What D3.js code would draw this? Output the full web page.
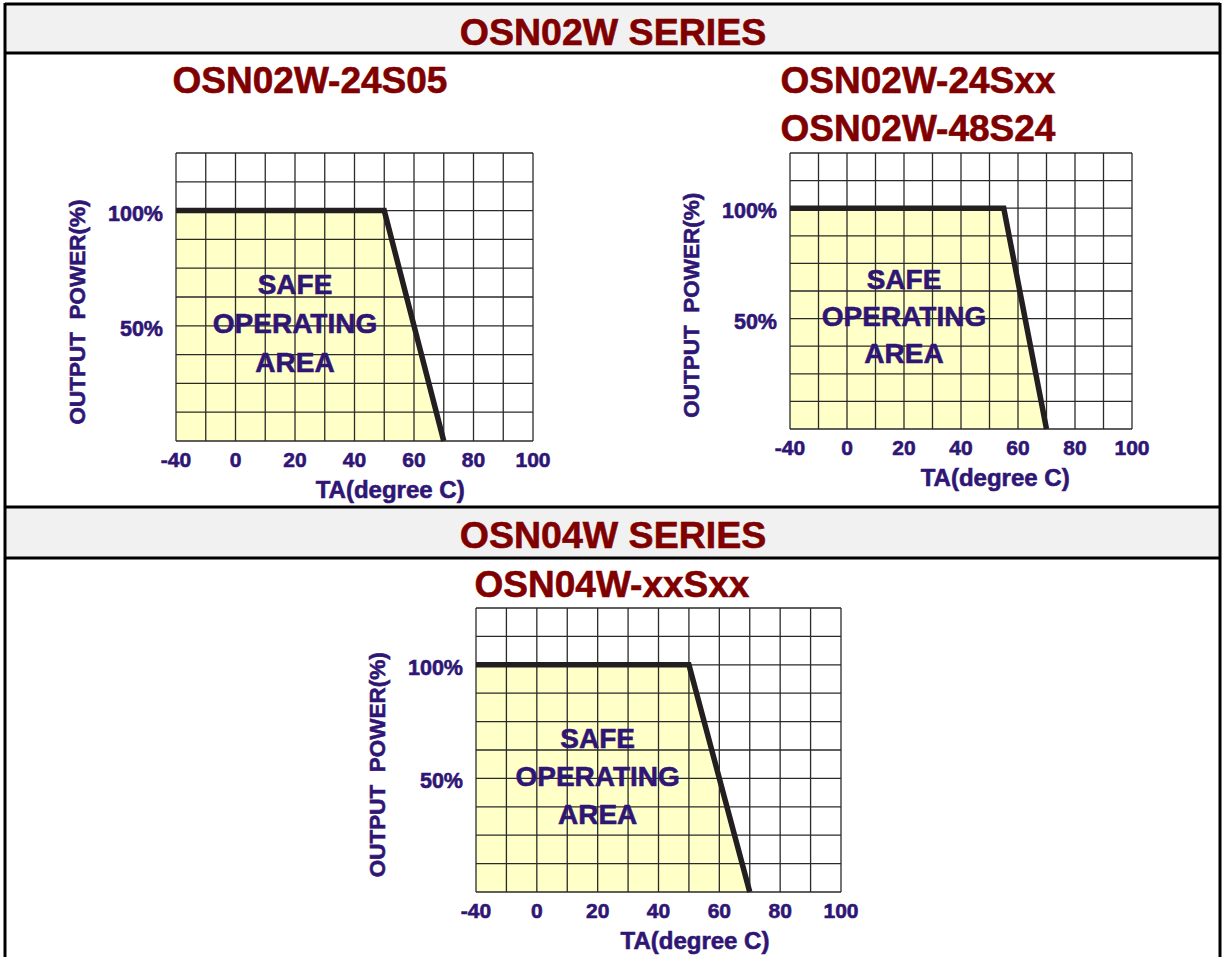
<!DOCTYPE html>
<html>
<head>
<meta charset="utf-8">
<script src="https://cdn.jsdelivr.net/npm/d3@7"></script>
<style>
	body { margin: 0; background: #fff; }
	svg { display: block; font-family: "Liberation Sans", Arial, sans-serif; font-weight: bold; }
	text { stroke-width: 0.6px; }
</style>
</head>
<body>
<svg id="derating" width="1223" height="957"></svg>
<script>
// Derating data
const seriesNames = ["OSN02W SERIES", "OSN04W SERIES"];
const xTickLabels = [-40, 0, 20, 40, 60, 80, 100];
const yTickLabels = [100, 50];
const areaLabel = ["SAFE", "OPERATING", "AREA"];

// temperature (degree C) and output power (%) at each corner of the curve
const tempOSN02W24S05 = [-40, 50, 70];
const tempOSN02W24Sxx = [-40, 55, 70];
const tempOSN04WxxSxx = [-40, 50, 70];
const powerDerating = [100, 100, 0];

const purple = "#2f1675";
const darkRed = "#800000";

const svg = d3.select("#derating");

// page frame and series header bands
const drawHeader = (top, bottom, name) => {
	svg.append("rect")
		.attr("x", 5).attr("y", top)
		.attr("width", 1215).attr("height", bottom - top)
		.attr("fill", "#f1f1f1");
	svg.append("line")
		.attr("x1", 5).attr("x2", 1220)
		.attr("y1", top).attr("y2", top)
		.attr("stroke", "#000").attr("stroke-width", 3);
	svg.append("line")
		.attr("x1", 5).attr("x2", 1220)
		.attr("y1", bottom).attr("y2", bottom)
		.attr("stroke", "#000").attr("stroke-width", 3);
	svg.append("text")
		.attr("x", 613).attr("y", top + 41)
		.attr("text-anchor", "middle")
		.attr("fill", darkRed)
		.attr("stroke", darkRed)
		.style("font-size", "37.5px")
		.text(name);
};

drawHeader(4, 53, seriesNames[0]);
drawHeader(507, 558, seriesNames[1]);

svg.append("line").attr("x1", 5).attr("x2", 5).attr("y1", 3).attr("y2", 957)
	.attr("stroke", "#000").attr("stroke-width", 3);
svg.append("line").attr("x1", 1220).attr("x2", 1220).attr("y1", 3).attr("y2", 957)
	.attr("stroke", "#000").attr("stroke-width", 3);

const drawChart = (cfg) => {
	const { left, top, width, height, temps, titles, titleX, titleY } = cfg;

	// the datasheet squeezes -40..0 into two columns, then 10 degrees per column
	const x = d3.scaleLinear()
		.domain([-40, 0, 100])
		.range([left, left + width / 6, left + width]);
	const y = d3.scaleLinear()
		.domain([0, 125])
		.range([top + height, top]);

	const g = svg.append("g");

	titles.forEach((t, i) => {
		g.append("text")
			.attr("x", titleX)
			.attr("y", titleY + i * 48)
			.attr("text-anchor", "middle")
			.attr("fill", darkRed)
			.attr("stroke", darkRed)
			.style("font-size", "37px")
			.text(t);
	});

	const points = temps.map((t, i) => [t, powerDerating[i]]);

	// safe operating area
	const area = d3.area()
		.x((d) => x(d[0]))
		.y0(y(0))
		.y1((d) => y(d[1]));
	g.append("path")
		.datum(points)
		.attr("d", area)
		.attr("fill", "#ffffc8");

	// grid
	const gridX = [-40, -20, ...d3.range(0, 101, 10)];
	const gridY = d3.range(0, 126, 12.5);
	g.selectAll(".vgrid")
		.data(gridX)
		.enter()
		.append("line")
		.attr("x1", (d) => x(d)).attr("x2", (d) => x(d))
		.attr("y1", y(0)).attr("y2", y(125))
		.attr("stroke", "#2a2a2a").attr("stroke-width", 1.3);
	g.selectAll(".hgrid")
		.data(gridY)
		.enter()
		.append("line")
		.attr("x1", x(-40)).attr("x2", x(100))
		.attr("y1", (d) => y(d)).attr("y2", (d) => y(d))
		.attr("stroke", "#2a2a2a").attr("stroke-width", 1.3);

	// derating curve
	const line = d3.line()
		.x((d) => x(d[0]))
		.y((d) => y(d[1]));
	g.append("path")
		.datum(points)
		.attr("d", line)
		.attr("fill", "none")
		.attr("stroke", "#231f20")
		.attr("stroke-width", 5.5);

	// tick labels
	g.selectAll(".xtick")
		.data(xTickLabels)
		.enter()
		.append("text")
		.attr("x", (d) => x(d))
		.attr("y", y(0) + 26)
		.attr("text-anchor", "middle")
		.attr("fill", purple)
		.attr("stroke", purple)
		.style("font-size", "21px")
		.text((d) => d);
	g.selectAll(".ytick")
		.data(yTickLabels)
		.enter()
		.append("text")
		.attr("x", left - 13)
		.attr("y", (d) => y(d) + 10)
		.attr("text-anchor", "end")
		.attr("fill", purple)
		.attr("stroke", purple)
		.style("font-size", "21.5px")
		.text((d) => d + "%");

	// axis titles
	g.append("text")
		.attr("x", x(52))
		.attr("y", y(0) + 57)
		.attr("text-anchor", "middle")
		.attr("fill", purple)
		.attr("stroke", purple)
		.style("font-size", "24px")
		.text("TA(degree C)");
	g.append("text")
		.attr("transform", `translate(${left - 91}, ${y(56)}) rotate(-90)`)
		.attr("text-anchor", "middle")
		.attr("fill", purple)
		.attr("stroke", purple)
		.style("font-size", "22.5px")
		.style("white-space", "pre")
		.text("OUTPUT  POWER(%)");

	// area label
	const labelY = [68, 51.2, 34.5];
	g.selectAll(".area-label")
		.data(areaLabel)
		.enter()
		.append("text")
		.attr("x", x(20))
		.attr("y", (d, i) => y(labelY[i]) + 10)
		.attr("text-anchor", "middle")
		.attr("fill", purple)
		.attr("stroke", purple)
		.style("font-size", "28px")
		.text((d) => d);
};

drawChart({
	left: 176, top: 153, width: 357, height: 288,
	temps: tempOSN02W24S05,
	titles: ["OSN02W-24S05"], titleX: 310, titleY: 93,
});
drawChart({
	left: 790, top: 153, width: 342, height: 276,
	temps: tempOSN02W24Sxx,
	titles: ["OSN02W-24Sxx", "OSN02W-48S24"], titleX: 918, titleY: 93,
});
drawChart({
	left: 476, top: 608, width: 365, height: 284,
	temps: tempOSN04WxxSxx,
	titles: ["OSN04W-xxSxx"], titleX: 612, titleY: 597,
});
</script>
</body>
</html>
